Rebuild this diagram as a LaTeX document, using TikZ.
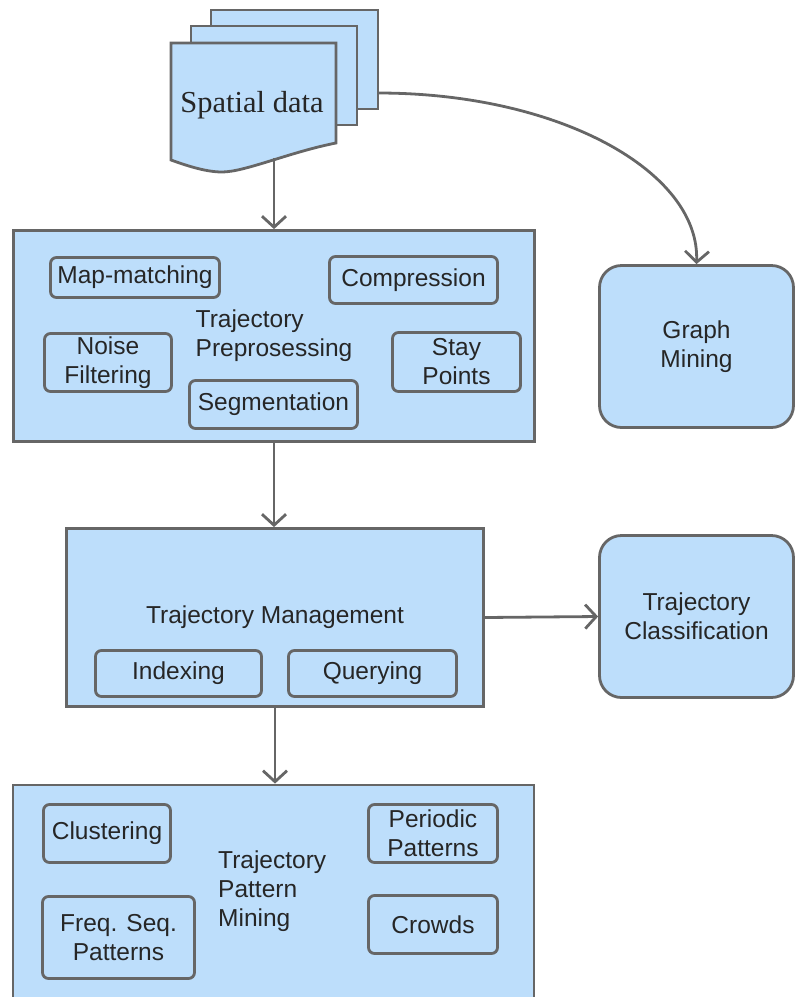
\documentclass[tikz,border=0pt]{standalone}
\usepackage{fontspec}
\setmainfont{Liberation Sans}
\newfontfamily\docserif{Liberation Serif}
\usetikzlibrary{arrows.meta}
\definecolor{boxfill}{HTML}{BDDEFB}
\definecolor{boxline}{HTML}{666666}
\definecolor{txt}{HTML}{262626}
\begin{document}
\begin{tikzpicture}[x=1pt,y=-1pt,
  every node/.style={text=txt, font=\fontsize{24.5}{29}\selectfont, inner sep=0pt},
  mainbox/.style={draw=boxline, fill=boxfill, line width=2.8pt, rectangle, align=left},
  subbox/.style={draw=boxline, fill=boxfill, line width=2.8pt, rounded corners=6pt, align=center},
  sidebox/.style={draw=boxline, fill=boxfill, line width=2.8pt, rounded corners=22pt, align=center},
  docsheet/.style={draw=boxline, fill=boxfill, line width=2.8pt},
  arr/.style={draw=boxline, line width=2.8pt, -{Straight Barb[length=11pt,width=24pt]}}
]
\useasboundingbox (0,0) rectangle (797,997);
\clip (0,0) rectangle (797,997);

% document stack
\path[docsheet] (211,10) rectangle (378,109);
\path[docsheet] (191,26) rectangle (357,125);
\path[docsheet] (171,43) -- (336,43) -- (336,143)
  .. controls (290,152) and (245,172) .. (222,172)
  .. controls (205,172) and (185,165) .. (171,160) -- cycle;
\node[font=\docserif\fontsize{30.5}{34}\selectfont, anchor=base] (spatial) at (252,112) {Spatial data};
\coordinate (dbot) at (274,158);
\coordinate (dright) at (378,93);

% trajectory preprocessing
\node[mainbox, minimum width=521pt, minimum height=211pt] (pre) at (274,336) {Trajectory\\Preprosessing};
\node[subbox, minimum width=169pt, minimum height=40pt] (mapm) at (135,277.5) {Map-matching};
\node[subbox, minimum width=168pt, minimum height=47pt] (comp) at (413.5,280) {Compression};
\node[subbox, minimum width=127pt, minimum height=58pt] (noise) at (108,362.5) {Noise\\Filtering};
\node[subbox, minimum width=128pt, minimum height=59pt] (stay) at (456.5,362) {Stay\\Points};
\node[subbox, minimum width=168pt, minimum height=48pt] (seg) at (273.5,404.5) {Segmentation};

% side boxes
\node[sidebox, minimum width=194pt, minimum height=162pt] (graph) at (696.5,346.5) {Graph\\Mining};
\node[sidebox, minimum width=194pt, minimum height=162pt] (class) at (696.5,616.5) {Trajectory\\Classification};

% management
\node[mainbox, minimum width=417pt, minimum height=178pt] (mgmt) at (275,617.5) {Trajectory Management};
\node[subbox, minimum width=166pt, minimum height=46pt] (idx) at (178.5,673.5) {Indexing};
\node[subbox, minimum width=168pt, minimum height=46pt] (qry) at (372.5,673.5) {Querying};

% pattern mining
\node[mainbox, minimum width=521pt, minimum height=225pt] (mining) at (273.5,897.5) {};
\node[anchor=west, align=left] (mintext) at (218,891.5) {Trajectory\\Pattern\\Mining};
\node[subbox, minimum width=127pt, minimum height=58pt] (clus) at (107,833.5) {Clustering};
\node[subbox, minimum width=152pt, minimum height=82pt] (freq) at (118.5,937.5) {Freq. Seq.\\Patterns};
\node[subbox, minimum width=129pt, minimum height=58pt] (peri) at (433,833.5) {Periodic\\Patterns};
\node[subbox, minimum width=129pt, minimum height=58pt] (crowd) at (433,924.5) {Crowds};

% connectors
\draw[arr] (dbot) -- (dbot |- pre.north);
\draw[arr] (dright) .. controls (560,93) and (700,172) .. (graph.north);
\draw[arr] (pre.south) -- (pre.south |- mgmt.north);
\draw[arr] (mgmt.south) -- (mgmt.south |- mining.north);
\draw[arr] (mgmt.east) -- (class.west);
\end{tikzpicture}
\end{document}
